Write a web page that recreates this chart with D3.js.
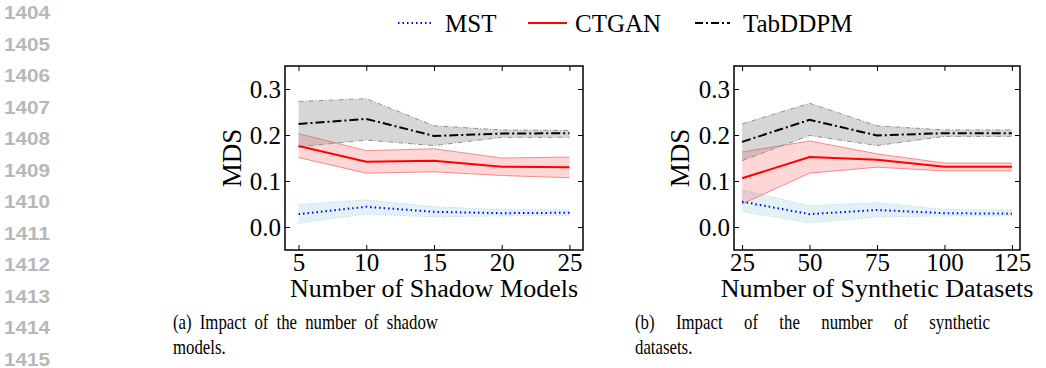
<!DOCTYPE html>
<html>
<head>
<meta charset="utf-8">
<script src="https://cdn.jsdelivr.net/npm/d3@7.9.0/dist/d3.min.js"></script>
<style>
  body { margin: 0; background: #fff; }
  svg { display: block; }
  text { font-family: "Liberation Serif", "Times New Roman", serif; fill: #000; }
  .lineno { font-family: "Liberation Sans", Arial, sans-serif; fill: #b8b8b8; font-weight: bold; }
</style>
</head>
<body>
<svg id="chart" width="1046" height="368"></svg>
<script>
// ---- data ----
const lineNumbers = [1404, 1405, 1406, 1407, 1408, 1409, 1410, 1411, 1412, 1413, 1414, 1415];

const shadowModels = [5, 10, 15, 20, 25];
const shadowMST     = [0.028, 0.044, 0.033, 0.030, 0.031];
const shadowMSTLo   = [0.008, 0.028, 0.022, 0.024, 0.025];
const shadowMSTHi   = [0.049, 0.059, 0.044, 0.038, 0.037];
const shadowCTGAN   = [0.176, 0.142, 0.144, 0.131, 0.130];
const shadowCTGANLo = [0.151, 0.117, 0.120, 0.112, 0.107];
const shadowCTGANHi = [0.203, 0.166, 0.170, 0.150, 0.152];
const shadowTab     = [0.224, 0.235, 0.198, 0.203, 0.204];
const shadowTabLo   = [0.174, 0.189, 0.177, 0.195, 0.195];
const shadowTabHi   = [0.273, 0.279, 0.220, 0.211, 0.210];

const synthDatasets = [25, 50, 75, 100, 125];
const synthMST     = [0.055, 0.028, 0.037, 0.030, 0.029];
const synthMSTLo   = [0.033, 0.009, 0.022, 0.024, 0.024];
const synthMSTHi   = [0.081, 0.046, 0.053, 0.038, 0.037];
const synthCTGAN   = [0.106, 0.152, 0.146, 0.131, 0.131];
const synthCTGANLo = [0.050, 0.117, 0.130, 0.122, 0.122];
const synthCTGANHi = [0.163, 0.187, 0.159, 0.139, 0.139];
const synthTab     = [0.185, 0.233, 0.199, 0.204, 0.204];
const synthTabLo   = [0.144, 0.199, 0.177, 0.197, 0.197];
const synthTabHi   = [0.224, 0.269, 0.220, 0.211, 0.211];

const yTicks = [0.0, 0.1, 0.2, 0.3];

const seriesStyle = {
  MST:     { color: '#0000ff', dash: '1.5,3', band: '#add8e6', bandOpacity: 0.35, edge: '#9fd0e6', edgeDash: '1,2' },
  CTGAN:   { color: '#ff0000', dash: null,    band: '#ff0000', bandOpacity: 0.16, edge: '#f08080', edgeDash: null },
  TabDDPM: { color: '#000000', dash: '9,3,2,3', band: '#808080', bandOpacity: 0.32, edge: '#888888', edgeDash: '5,2,1,2' }
};

const svg = d3.select('#chart');
svg.append('rect').attr('width', 1046).attr('height', 368).attr('fill', '#fff');

// line numbers on the margin
svg.selectAll('text.lineno')
  .data(lineNumbers)
  .join('text')
  .attr('class', 'lineno')
  .attr('x', 4)
  .attr('y', (d, i) => 19 + i * 31.5)
  .attr('font-size', 18)
  .attr('textLength', 46)
  .attr('lengthAdjust', 'spacingAndGlyphs')
  .text(d => d);

// legend
const legendItems = [
  { name: 'MST', x0: 398, x1: 433, tx: 445 },
  { name: 'CTGAN', x0: 528, x1: 567, tx: 575 },
  { name: 'TabDDPM', x0: 695, x1: 730, tx: 743 }
];
const legend = svg.append('g').attr('class', 'legend');
legendItems.forEach(it => {
  const st = seriesStyle[it.name];
  legend.append('line')
    .attr('x1', it.x0).attr('x2', it.x1).attr('y1', 23).attr('y2', 23)
    .attr('stroke', st.color).attr('stroke-width', 1.8)
    .attr('stroke-dasharray', it.name === 'TabDDPM' ? '8,3,2,3' : st.dash);
  legend.append('text')
    .attr('x', it.tx).attr('y', 32)
    .attr('font-size', 25)
    .text(it.name);
});

// justified caption line: condensed words spread across the width
function captionLine(g, text, x, y, width, squeeze, justify) {
  const words = text.split(' ');
  const nodes = words.map(w => g.append('text').attr('font-size', 21).text(w));
  const widths = nodes.map(n => n.node().getComputedTextLength() * squeeze);
  const total = d3.sum(widths);
  const gap = justify && words.length > 1 ? (width - total) / (words.length - 1) : 6;
  let cx = x;
  nodes.forEach((n, i) => {
    n.attr('transform', `translate(${cx},${y}) scale(${squeeze},1)`);
    cx += widths[i] + gap;
  });
}

function drawPanel(cfg) {
  const { left, right, top, bottom, xDomain, xs, series, xTitle, caption } = cfg;
  const x = d3.scaleLinear().domain(xDomain).range([left, right]);
  const y = d3.scaleLinear().domain([-0.05, 0.35]).range([bottom, top]);
  const g = svg.append('g');

  const area = d3.area().x(d => x(d.x)).y0(d => y(d.lo)).y1(d => y(d.hi));
  const line = d3.line().x(d => x(d.x)).y(d => y(d.v));

  series.forEach(s => {
    const st = seriesStyle[s.name];
    const pts = xs.map((xv, i) => ({ x: xv, v: s.mean[i], lo: s.lo[i], hi: s.hi[i] }));
    g.append('path').datum(pts).attr('d', area)
      .attr('fill', st.band).attr('fill-opacity', st.bandOpacity).attr('stroke', 'none');
    ['lo', 'hi'].forEach(k => {
      g.append('path').datum(pts)
        .attr('d', d3.line().x(d => x(d.x)).y(d => y(d[k])))
        .attr('fill', 'none').attr('stroke', st.edge).attr('stroke-width', 0.9)
        .attr('stroke-dasharray', st.edgeDash);
    });
  });
  series.forEach(s => {
    const st = seriesStyle[s.name];
    const pts = xs.map((xv, i) => ({ x: xv, v: s.mean[i] }));
    g.append('path').datum(pts).attr('d', line)
      .attr('fill', 'none').attr('stroke', st.color).attr('stroke-width', 2)
      .attr('stroke-dasharray', st.dash);
  });

  // axes with inward ticks on all four sides
  const tickLen = 5;
  const axB = g.append('g').attr('transform', `translate(0,${bottom})`)
    .call(d3.axisBottom(x).tickValues(xs).tickSizeInner(-tickLen).tickSizeOuter(0));
  const axT = g.append('g').attr('transform', `translate(0,${top})`)
    .call(d3.axisTop(x).tickValues(xs).tickSizeInner(-tickLen).tickSizeOuter(0).tickFormat(''));
  const axL = g.append('g').attr('transform', `translate(${left},0)`)
    .call(d3.axisLeft(y).tickValues(yTicks).tickSizeInner(-tickLen).tickSizeOuter(0)
      .tickFormat(d3.format('.1f')).tickPadding(4));
  const axR = g.append('g').attr('transform', `translate(${right},0)`)
    .call(d3.axisRight(y).tickValues(yTicks).tickSizeInner(-tickLen).tickSizeOuter(0).tickFormat(''));
  [axB, axT, axL, axR].forEach(a => {
    a.select('.domain').remove();
    a.selectAll('.tick line').attr('stroke', '#000').attr('stroke-width', 1);
    a.selectAll('.tick text').attr('font-size', 25)
      .attr('font-family', '"Liberation Serif", "Times New Roman", serif').attr('fill', '#000');
  });
  axB.selectAll('.tick text').attr('dy', null).attr('y', 21);
  axL.selectAll('.tick text').attr('dy', '0.35em');

  g.append('rect')
    .attr('x', left).attr('y', top).attr('width', right - left).attr('height', bottom - top)
    .attr('fill', 'none').attr('stroke', '#000').attr('stroke-width', 1.5);

  g.append('text')
    .attr('transform', `translate(${cfg.yLabelX},${(top + bottom) / 2}) rotate(-90)`)
    .attr('text-anchor', 'middle').attr('font-size', 27)
    .text('MDS');

  g.append('text')
    .attr('x', (left + right) / 2).attr('y', 297)
    .attr('text-anchor', 'middle').attr('font-size', 26)
    .text(xTitle);

  captionLine(g, caption.line1, caption.x, 329, caption.w, 0.8, true);
  captionLine(g, caption.line2, caption.x, 354, caption.w, 0.8, false);
}

drawPanel({
  left: 285, right: 583, top: 66, bottom: 250,
  xDomain: [4, 26], xs: shadowModels, yLabelX: 241,
  series: [
    { name: 'MST', mean: shadowMST, lo: shadowMSTLo, hi: shadowMSTHi },
    { name: 'CTGAN', mean: shadowCTGAN, lo: shadowCTGANLo, hi: shadowCTGANHi },
    { name: 'TabDDPM', mean: shadowTab, lo: shadowTabLo, hi: shadowTabHi }
  ],
  xTitle: 'Number of Shadow Models',
  caption: { x: 173, w: 265, line1: '(a) Impact of the number of shadow', line2: 'models.' }
});

drawPanel({
  left: 734, right: 1020, top: 66, bottom: 250,
  xDomain: [22, 128], xs: synthDatasets, yLabelX: 689,
  series: [
    { name: 'MST', mean: synthMST, lo: synthMSTLo, hi: synthMSTHi },
    { name: 'CTGAN', mean: synthCTGAN, lo: synthCTGANLo, hi: synthCTGANHi },
    { name: 'TabDDPM', mean: synthTab, lo: synthTabLo, hi: synthTabHi }
  ],
  xTitle: 'Number of Synthetic Datasets',
  caption: { x: 635, w: 355, line1: '(b) Impact of the number of synthetic', line2: 'datasets.' }
});
</script>
</body>
</html>
